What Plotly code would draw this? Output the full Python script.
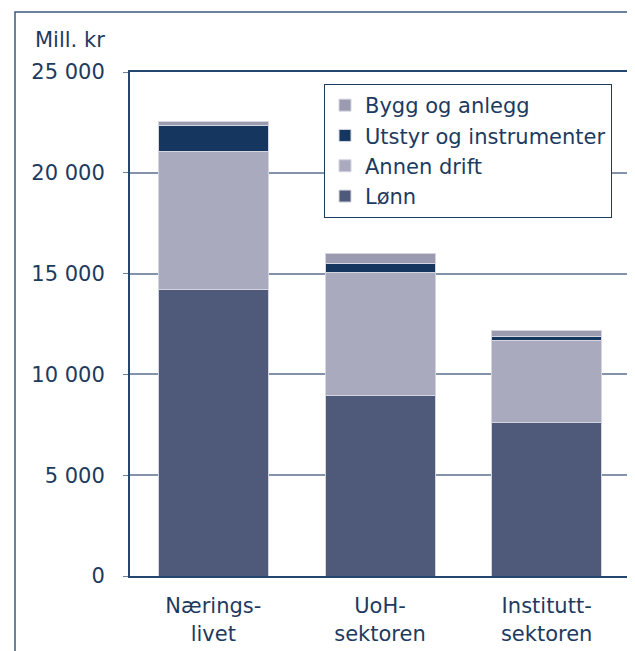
import plotly.graph_objects as go

sektorer = ["Nærings-<br>livet", "UoH-<br>sektoren", "Institutt-<br>sektoren"]
lonn = [14200, 8930, 7620]
annen_drift = [6870, 6130, 4050]
utstyr = [1300, 420, 230]
bygg = [180, 510, 290]
y_ticks = [0, 5000, 10000, 15000, 20000, 25000]
y_ticktext = ["0", "5 000", "10 000", "15 000", "20 000", "25 000"]

txt = "#1d3a5f"
fnt = dict(family="DejaVu Sans, Verdana, sans-serif", size=21, color=txt)

serier = [
    ("Lønn", lonn, "#4f5a7a"),
    ("Annen drift", annen_drift, "#a9aabd"),
    ("Utstyr og instrumenter", utstyr, "#15365e"),
    ("Bygg og anlegg", bygg, "#9a9bb1"),
]

fig = go.Figure()
for i, (navn, verdier, farge) in enumerate(serier):
    fig.add_trace(
        go.Bar(
            name=navn,
            x=sektorer,
            y=verdier,
            marker=dict(color=farge, line=dict(color="#d4d5e0", width=1)),
            legendgroup="g%d" % i,
        )
    )

# the page body adds 8px, margins are set so the plot lands at 130..630 x 72..576
fig.update_layout(
    width=635,
    height=651,
    barmode="stack",
    bargap=0.34,
    plot_bgcolor="white",
    paper_bgcolor="white",
    font=fnt,
    margin=dict(l=122, r=13, t=64, b=83),
    showlegend=True,
    legend=dict(
        x=0.388,
        y=1 - (76 - 64) / 504,
        xanchor="left",
        yanchor="top",
        traceorder="reversed",
        tracegroupgap=2,
        bordercolor="#1d3a5f",
        borderwidth=1,
        bgcolor="white",
        font=fnt,
    ),
    xaxis=dict(
        showline=True,
        linecolor="#23466e",
        linewidth=2,
        mirror=True,
        ticks="",
        ticklabelstandoff=10,
        tickfont=fnt,
    ),
    yaxis=dict(
        range=[0, 25000],
        tickvals=y_ticks,
        ticktext=y_ticktext,
        showline=True,
        linecolor="#23466e",
        linewidth=2,
        mirror=True,
        ticks="outside",
        ticklen=5,
        tickcolor="#6c819c",
        ticklabelstandoff=14,
        showgrid=True,
        gridcolor="#8393aa",
        gridwidth=2,
        zeroline=False,
        tickfont=fnt,
    ),
    annotations=[
        dict(
            text="Mill. kr",
            xref="paper",
            yref="paper",
            x=(25 - 122) / 500,
            y=1 + (64 - 32) / 504,
            xanchor="left",
            yanchor="middle",
            showarrow=False,
            font=fnt,
        )
    ],
    shapes=[
        dict(
            type="rect",
            xref="paper",
            yref="paper",
            x0=(7 - 122) / 500,
            x1=(650 - 122) / 500,
            y0=-(100) / 504,
            y1=1 + (64 - 4) / 504,
            line=dict(color="#3b5a80", width=1.5),
            layer="below",
        )
    ],
)

fig.write_html("out.html")
